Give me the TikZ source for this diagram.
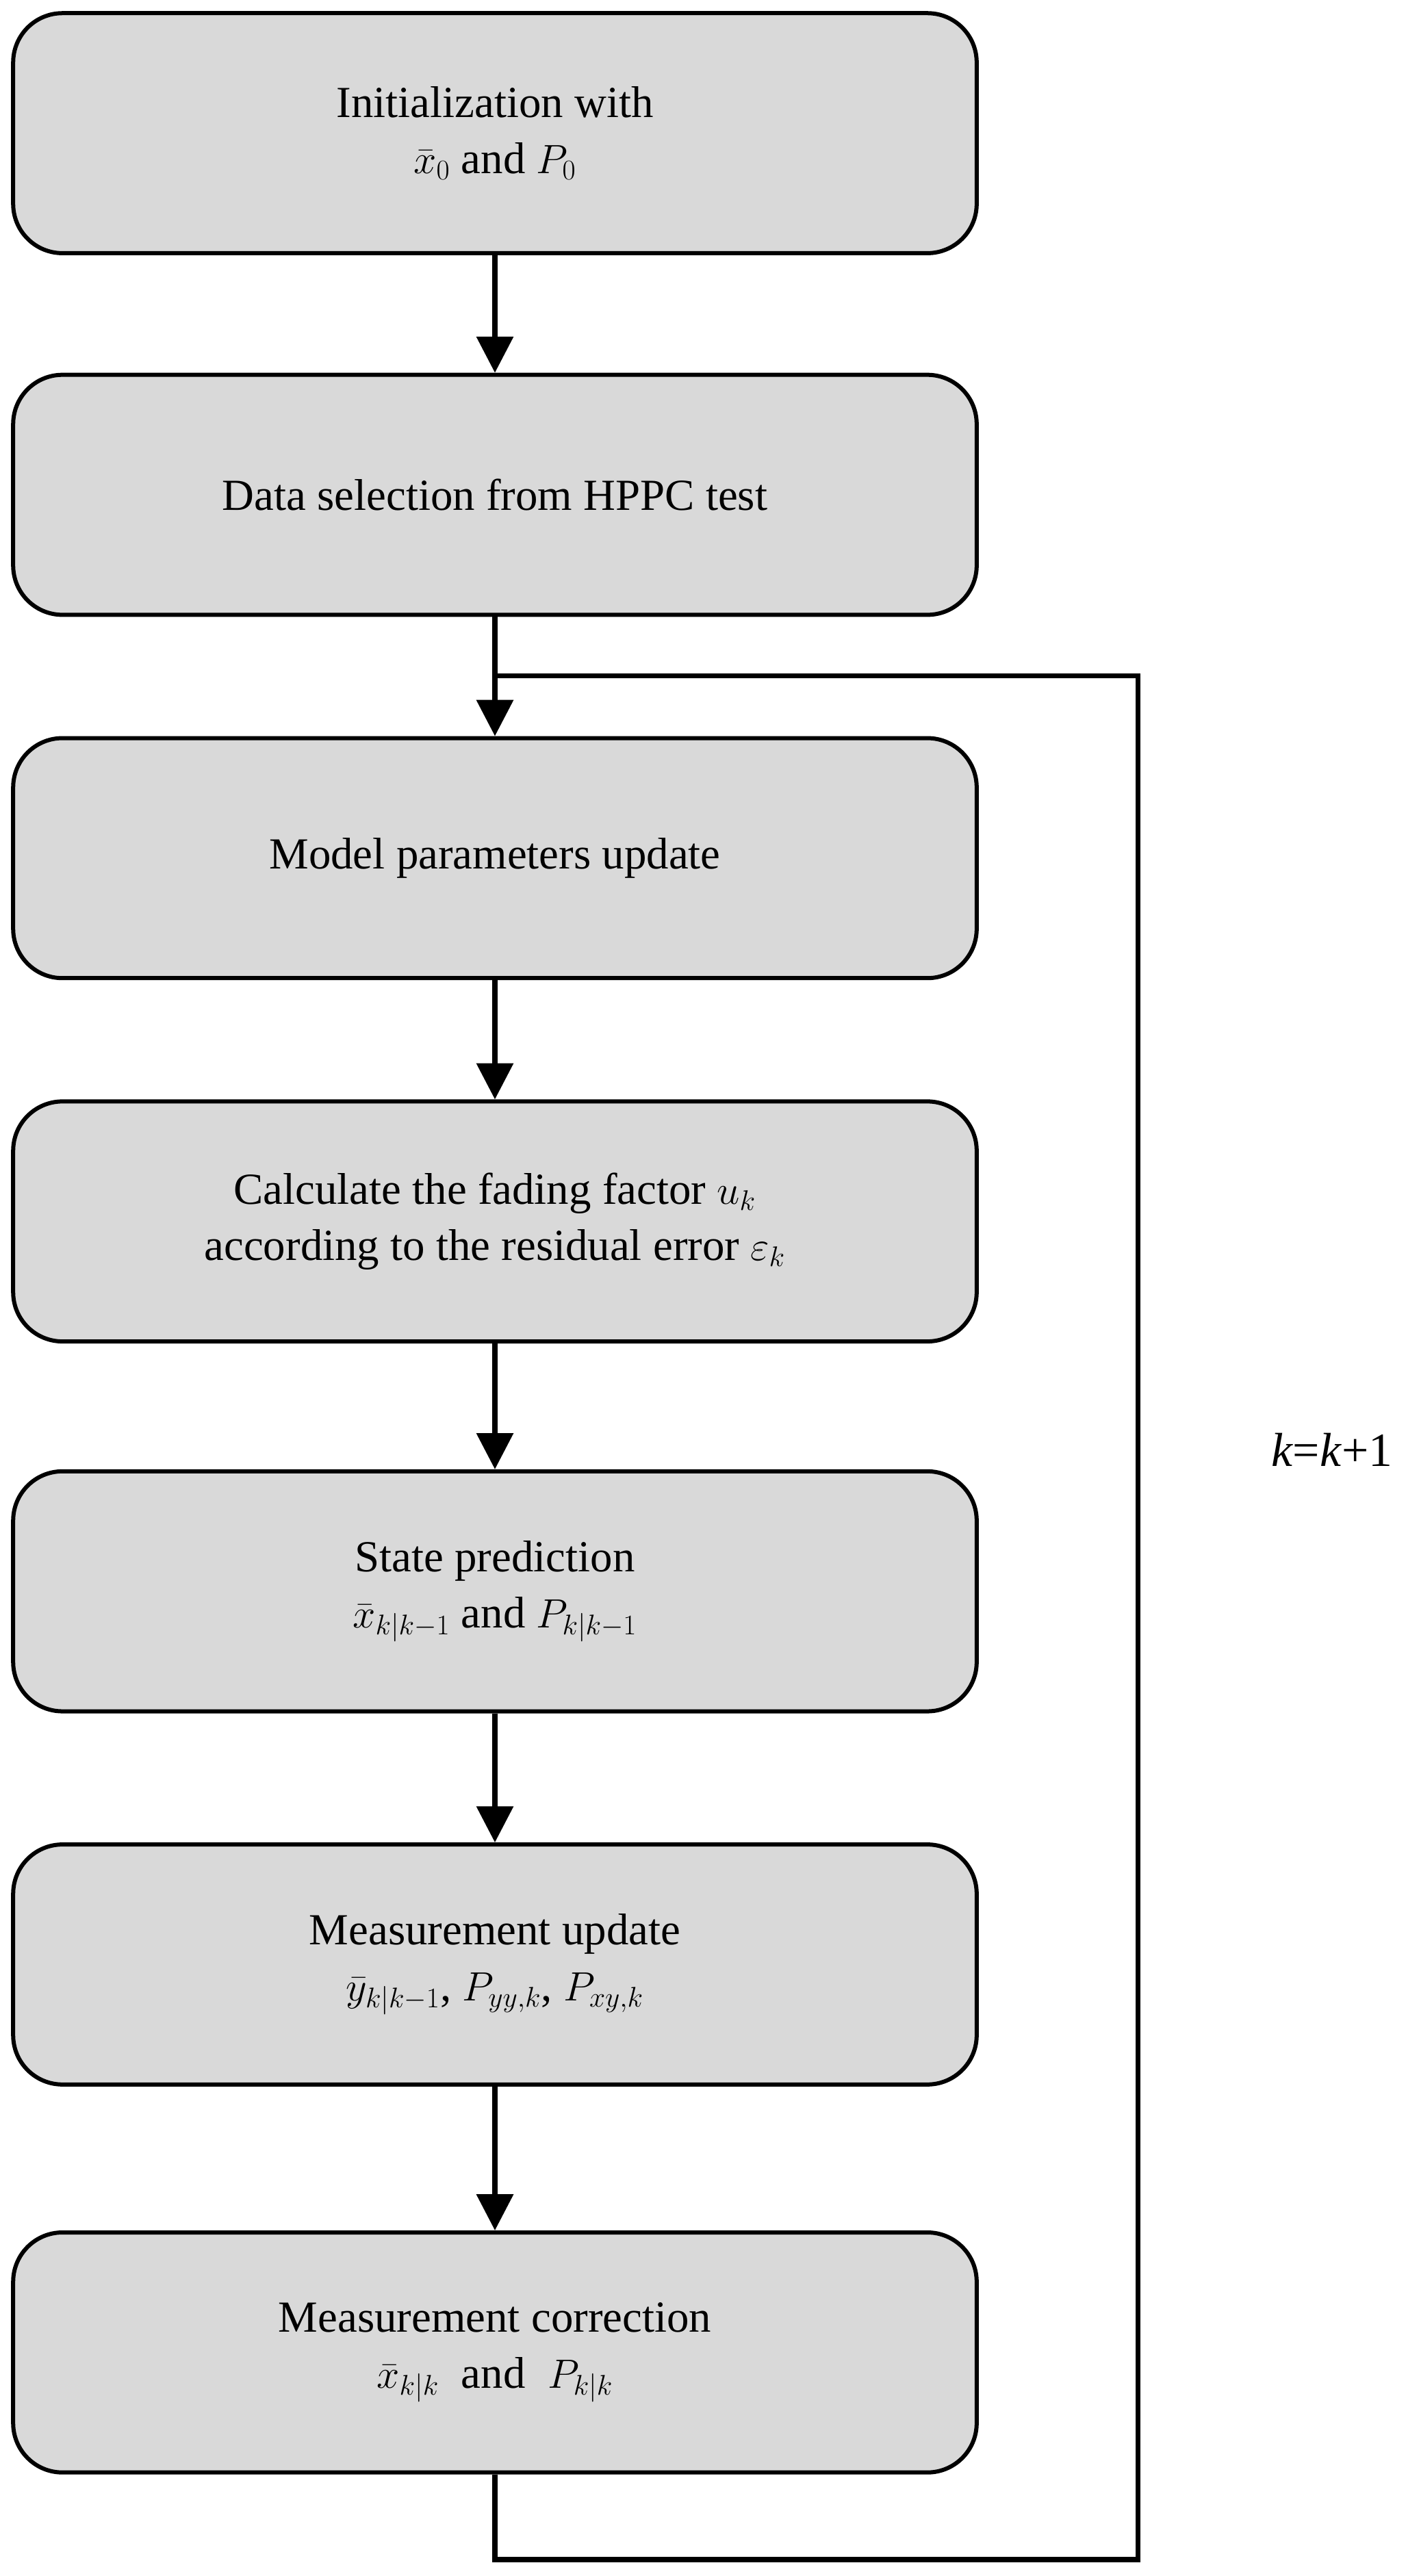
\documentclass[tikz,border=0pt]{standalone}
\usepackage{fontspec}
\setmainfont{Liberation Serif}
\usetikzlibrary{arrows.meta}
\begin{document}
\begin{tikzpicture}[x=1pt,y=-1pt,
 box/.style={draw=black,line width=2.5pt,fill=black!15,rounded corners=30pt,minimum width=586pt,minimum height=146pt,align=center,font=\fontsize{27}{34}\selectfont},
 arr/.style={line width=3pt,-{Triangle[length=22pt,width=22pt]}},
 ln/.style={line width=3pt}]
\useasboundingbox (0,0) rectangle (863,1567);
\node[box] (b1) at (301,81) {Initialization with\\ $\bar{x}_0$ and $P_0$};
\node[box] (b2) at (301,301) {Data selection from HPPC test};
\node[box] (b3) at (301,522) {Model parameters update};
\node[box] (b4) at (301,743) {Calculate the fading factor $u_k$\\ according to the residual error $\varepsilon_k$};
\node[box] (b5) at (301,968) {State prediction\\ $\bar{x}_{k|k-1}$ and $P_{k|k-1}$};
\node[box] (b6) at (301,1195) {Measurement update\\ $\bar{y}_{k|k-1}$, $P_{yy,k}$, $P_{xy,k}$};
\node[box] (b7) at (301,1431) {Measurement correction\\ $\bar{x}_{k|k}$ \ and \ $P_{k|k}$};
\draw[arr] (b1) -- (b2);
\draw[arr] (b2) -- (b3);
\draw[arr] (b3) -- (b4);
\draw[arr] (b4) -- (b5);
\draw[arr] (b5) -- (b6);
\draw[arr] (b6) -- (b7);
\coordinate (j) at (301,411);
\draw[ln] (b7.south) -- (301,1557) -- (692,1557) -- (692,411) -- (j);
\node[font=\fontsize{29}{34}\selectfont] (lab) at (810,882) {\textit{k}=\textit{k}+1};
\end{tikzpicture}
\end{document}
